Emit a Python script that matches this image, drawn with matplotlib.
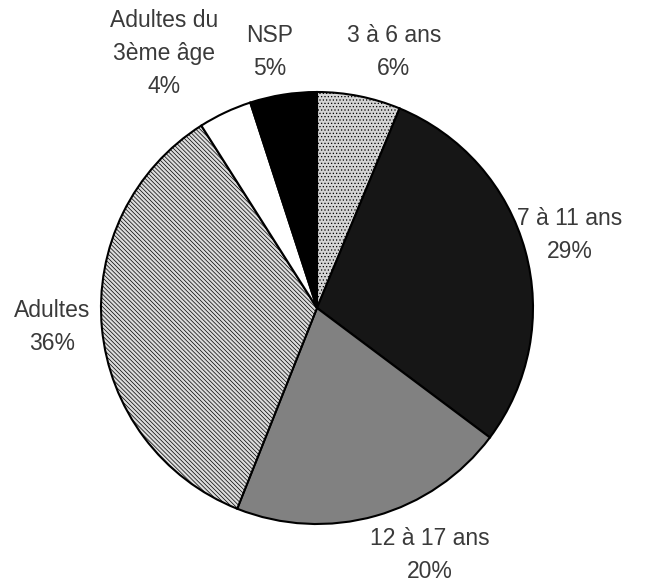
import matplotlib.pyplot as plt

plt.rcParams['font.family'] = ['Liberation Sans', 'DejaVu Sans']
plt.rcParams['hatch.linewidth'] = 0.5

# Data (clockwise from 12 o'clock)
categories = ['3 à 6 ans', '7 à 11 ans', '12 à 17 ans', 'Adultes',
              'Adultes du\n3ème âge', 'NSP']
values = [6.25, 29.0, 20.8, 35.0, 4.0, 5.0]
pct_labels = ['6%', '29%', '20%', '36%', '4%', '5%']

colors = ['#d4d4d4', '#161616', '#818181', '#dcdcdc', '#ffffff', '#000000']
hatches = ['.....', None, None, '\\' * 8, None, None]

# label anchor positions in pixels (x centre, baseline of last line)
label_pos = [(394, 75), (570, 258), (430, 578), (52, 350), (164, 93), (270, 75)]
LINE = 33

W, H = 654, 583
fig = plt.figure(figsize=(W / 100, H / 100), dpi=100)
ax = fig.add_axes([0, 0, 1, 1])

wedges, _ = ax.pie(
    values,
    startangle=90,
    counterclock=False,
    center=(317, H - 308),
    radius=216,
    colors=colors,
    wedgeprops=dict(edgecolor='black', linewidth=1.5),
)
for w, h in zip(wedges, hatches):
    if h:
        w.set_hatch(h)

for cat, pct, (x, yb) in zip(categories, pct_labels, label_pos):
    lines = cat.split('\n') + [pct]
    n = len(lines)
    for i, line in enumerate(lines):
        y = yb - (n - 1 - i) * LINE
        ax.text(x, H - y, line, ha='center', va='baseline',
                fontsize=16.5, color='#3a3a3a')

ax.set_xlim(0, W)
ax.set_ylim(0, H)
ax.set_aspect('equal')
ax.axis('off')

fig.savefig('out.png', dpi=100)
